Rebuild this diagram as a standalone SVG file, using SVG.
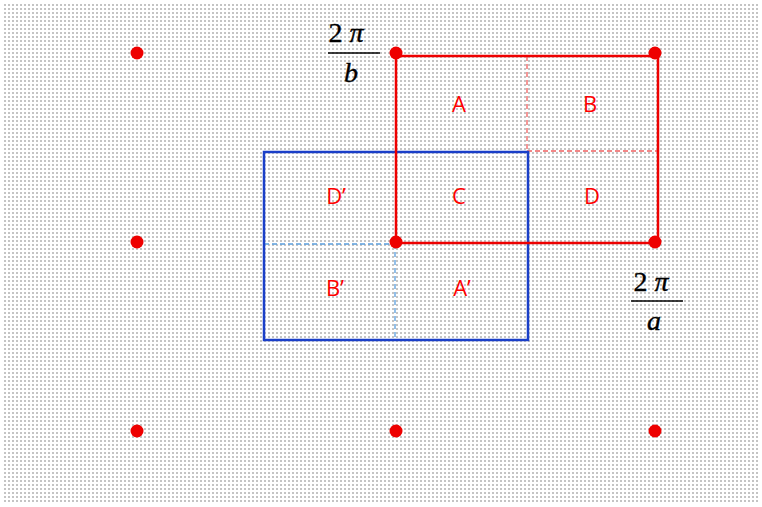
<svg xmlns="http://www.w3.org/2000/svg" width="762" height="507" viewBox="0 0 762 507">
<defs>
<pattern id="dots" x="0" y="0" width="4" height="4" patternUnits="userSpaceOnUse">
<rect x="0" y="0" width="2" height="2" fill="#c4c4c4"/>
</pattern>
</defs>
<style>
.lbl{font-family:"Open Sans","Liberation Sans",sans-serif;font-size:22px;fill:#ff0000;text-anchor:middle}
.math{font-family:"Liberation Serif","Times New Roman",serif;font-size:28px;fill:#000;text-anchor:middle;stroke:#000;stroke-width:0.4}
.it{font-style:italic}
.pt{fill:#ee0000}
</style>
<rect x="0" y="0" width="762" height="507" fill="#ffffff"/>
<rect x="4" y="4" width="756" height="500" fill="url(#dots)"/>
<g id="connectors">
<line x1="527" y1="56" x2="527" y2="151" stroke="#f06060" stroke-width="1.3" stroke-dasharray="5,3"/>
<line x1="527" y1="151" x2="658" y2="151" stroke="#f06060" stroke-width="1.3" stroke-dasharray="5,3"/>
<line x1="264" y1="244" x2="396" y2="244" stroke="#5a9ede" stroke-width="1.3" stroke-dasharray="5,3"/>
<line x1="395" y1="244" x2="395" y2="340" stroke="#5a9ede" stroke-width="1.3" stroke-dasharray="5,3"/>
</g>
<g id="blue-cell">
<rect x="264" y="152" width="264" height="188" fill="none" stroke="#1a3fc8" stroke-width="2.5"/>
</g>
<g id="red-cell">
<rect x="396" y="56" width="262" height="187" fill="none" stroke="#ee0000" stroke-width="2.5"/>
</g>
<g id="points">
<circle class="pt" cx="137" cy="53" r="6.5"/>
<circle class="pt" cx="396" cy="53" r="6.5"/>
<circle class="pt" cx="655" cy="53" r="6.5"/>
<circle class="pt" cx="137" cy="242" r="6.5"/>
<circle class="pt" cx="396" cy="242" r="6.5"/>
<circle class="pt" cx="655" cy="242" r="6.5"/>
<circle class="pt" cx="137" cy="431" r="6.5"/>
<circle class="pt" cx="396" cy="431" r="6.5"/>
<circle class="pt" cx="655" cy="431" r="6.5"/>
</g>
<g id="labels">
<text class="lbl" x="459" y="112">A</text>
<text class="lbl" x="590" y="112">B</text>
<text class="lbl" x="459" y="204">C</text>
<text class="lbl" x="592" y="204">D</text>
<text class="lbl" x="336" y="204">D’</text>
<text class="lbl" x="335" y="296">B’</text>
<text class="lbl" x="462" y="296">A’</text>
</g>
<g id="frac-b">
<text class="math" x="346" y="42">2 <tspan class="it">π</tspan></text>
<line x1="328" y1="53" x2="380" y2="53" stroke="#000" stroke-width="1.5"/>
<text class="math it" x="351" y="82">b</text>
</g>
<g id="frac-a">
<text class="math" x="651" y="291">2 <tspan class="it">π</tspan></text>
<line x1="631" y1="301" x2="683" y2="301" stroke="#000" stroke-width="1.5"/>
<text class="math it" x="654" y="330">a</text>
</g>
</svg>
